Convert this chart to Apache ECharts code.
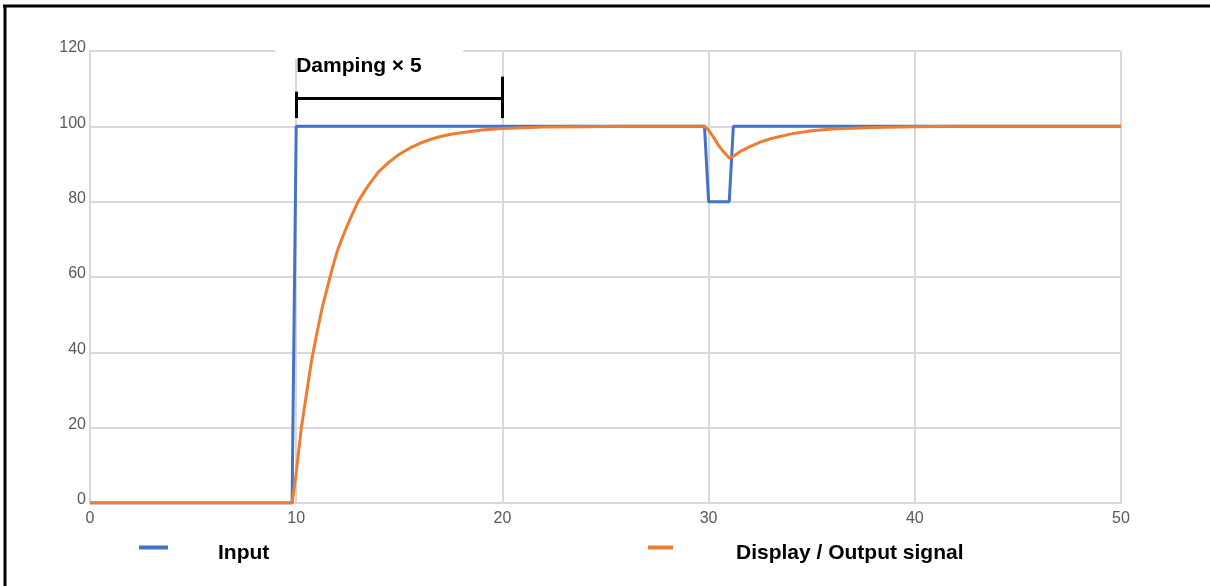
<!DOCTYPE html>
<html>
<head>
<meta charset="utf-8">
<script src="https://cdn.jsdelivr.net/npm/echarts@6/dist/echarts.min.js"></script>
<style>
html,body{margin:0;padding:0;background:#fff;}
#chart{width:1210px;height:586px;}
</style>
</head>
<body>
<div id="chart"></div>
<script>
// Input signal (time, value)
const inputX = [0, 9.8, 10, 29.8, 30, 31, 31.2, 50];
const inputY = [0, 0, 100, 100, 80, 80, 100, 100];
// Display / Output signal (time, value)
const outputX = [0, 9.8, 10, 10.25, 10.5, 10.75, 11, 11.25, 11.5, 11.75, 12, 12.25, 12.5, 12.75, 13, 13.25, 13.5, 14, 14.5, 15, 15.5, 16, 16.5, 17, 17.5, 18, 19, 20, 22, 24, 26, 28, 29.8, 30, 30.25, 30.5, 30.75, 31, 31.25, 31.5, 32, 32.5, 33, 34, 35, 36, 38, 40, 42, 45, 50];
const outputY = [0, 0, 8, 20, 29, 38, 45, 51.6, 57, 62.3, 67, 70.6, 74, 77, 80, 82.2, 84.3, 88, 90.5, 92.6, 94.2, 95.5, 96.5, 97.3, 97.9, 98.3, 99, 99.4, 99.8, 99.9, 100, 100, 100, 99, 97, 94.8, 93.1, 91.6, 92.2, 93.2, 94.6, 95.8, 96.7, 98, 98.8, 99.3, 99.7, 99.9, 100, 100, 100];
const xTicks = [0, 10, 20, 30, 40, 50];
const yTicks = [0, 20, 40, 60, 80, 100, 120];
const seriesNames = ['Input', 'Display / Output signal'];
const annotationText = 'Damping \u00d7 5';
const bracketStart = 10, bracketEnd = 20, bracketY = 107.5;

const chart = echarts.init(document.getElementById('chart'), null, {renderer: 'canvas'});
const gridCol = '#d9d9d9';
const labelCol = '#595959';
const font = 'Liberation Sans, Arial, sans-serif';

const inputData = inputX.map((x, i) => [x, inputY[i]]);
const outputData = outputX.map((x, i) => [x, outputY[i]]);

function legendText(gap) {
  return {
    fontSize: 21, fontWeight: 'bold', color: '#000', fontFamily: font,
    rich: {t: {fontSize: 21, fontWeight: 'bold', color: '#000', fontFamily: font, padding: [12, 0, 0, gap]}}
  };
}

const option = {
  animation: false,
  backgroundColor: '#fff',
  grid: {left: 90, right: 89, top: 51, bottom: 83, containLabel: false},
  xAxis: {
    type: 'value', min: xTicks[0], max: xTicks[xTicks.length - 1], interval: 10,
    axisLine: {show: true, lineStyle: {color: gridCol, width: 2}},
    axisTick: {show: false},
    axisLabel: {color: labelCol, fontSize: 16, fontFamily: font, margin: 8},
    splitLine: {show: true, lineStyle: {color: gridCol, width: 2}}
  },
  yAxis: {
    type: 'value', min: yTicks[0], max: yTicks[yTicks.length - 1], interval: 20,
    axisLine: {show: true, lineStyle: {color: gridCol, width: 2}},
    axisTick: {show: false},
    axisLabel: {color: labelCol, fontSize: 16, fontFamily: font, margin: 4, verticalAlign: 'bottom', padding: [0,0,-5,0]},
    splitLine: {show: true, lineStyle: {color: gridCol, width: 2}}
  },
  legend: [
    {
      data: [seriesNames[0]], left: 134, top: 538, itemWidth: 29, itemHeight: 4, icon: 'rect',
      formatter: '{t|{name}}', textStyle: legendText(45)
    },
    {
      data: [seriesNames[1]], left: 643, top: 538, itemWidth: 25, itemHeight: 4, icon: 'rect',
      formatter: '{t|{name}}', textStyle: legendText(58)
    }
  ],
  series: [
    {
      name: seriesNames[0], type: 'line', data: inputData, showSymbol: false, symbol: 'none',
      lineStyle: {color: '#4472c4', width: 3}, itemStyle: {color: '#4472c4'}, z: 3
    },
    {
      name: seriesNames[1], type: 'line', data: outputData, showSymbol: false, symbol: 'none',
      lineStyle: {color: '#ed7d31', width: 3, join: 'round'}, itemStyle: {color: '#ed7d31'}, z: 4
    },
    {
      name: 'bracket', type: 'line', data: [], z: 5,
      markLine: {
        silent: true, symbol: ['none', 'none'], label: {show: false},
        lineStyle: {color: '#000', width: 3, type: 'solid'},
        data: [
          [{coord: [bracketStart, bracketY]}, {coord: [bracketEnd, bracketY]}],
          [{coord: [bracketStart, 102.2]}, {coord: [bracketStart, 109.2]}],
          [{coord: [bracketEnd, 102.2]}, {coord: [bracketEnd, 113.2]}]
        ]
      }
    }
  ]
};
chart.setOption(option);

const p0 = chart.convertToPixel({gridIndex: 0}, [bracketStart, 120]);
chart.setOption({
  graphic: [
    {type: 'rect', shape: {x: p0[0] - 21, y: p0[1] - 8, width: 188, height: 16}, style: {fill: '#fff'}, z: 10, silent: true},
    {type: 'text', x: p0[0], y: p0[1] + 15.5, style: {text: annotationText, font: 'bold 21px ' + font, fill: '#000', textVerticalAlign: 'middle'}, z: 11},
    {type: 'line', shape: {x1: 3, y1: 6, x2: 1210, y2: 6}, style: {stroke: '#000', lineWidth: 3}, z: 20},
    {type: 'line', shape: {x1: 5, y1: 5, x2: 5, y2: 586}, style: {stroke: '#000', lineWidth: 3}, z: 20}
  ]
});
</script>
</body>
</html>
